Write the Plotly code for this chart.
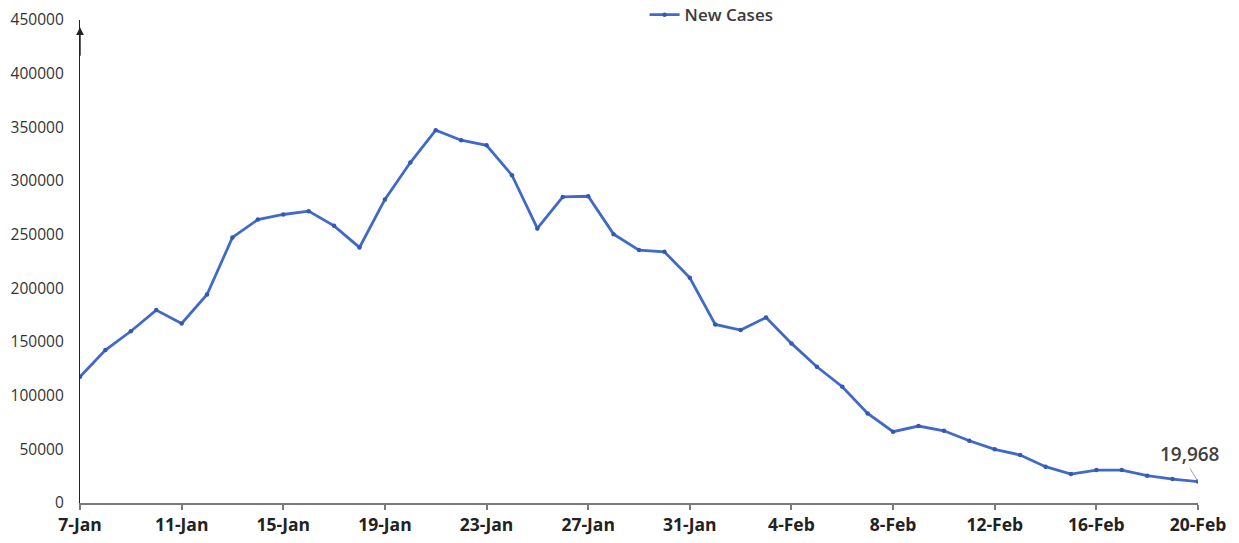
import plotly.graph_objects as go
import pandas as pd

# Daily new cases, 7 Jan - 20 Feb
dates = pd.date_range("2022-01-07", "2022-02-20", freq="D")
new_cases = [
    117600, 142500, 160000, 179700, 167300, 194300, 247400, 264100, 268800,
    271900, 258200, 238100, 282800, 317200, 347300, 338000, 333300, 305400,
    255800, 285200, 285800, 250500, 235600, 234000, 209800,
    166400, 161100, 172900, 148700, 126900, 108300, 83500, 66400, 71700,
    67300, 58000, 50000, 44700, 33800, 27000, 30700, 30700, 25400, 22300,
    19968,
]
series_name = "New Cases"
last_label = "19,968"

y_ticks = list(range(0, 450001, 50000))

line_color = "#4169C8"
font_family = "Open Sans, Liberation Sans, sans-serif"

fig = go.Figure()
fig.add_trace(go.Scatter(
    x=dates, y=new_cases, name=series_name, mode="lines+markers",
    line=dict(color=line_color, width=2.8),
    marker=dict(color="#3558B0", size=4.5, symbol="circle"),
))

fig.add_annotation(
    x=dates[-1], y=new_cases[-1], text=last_label,
    showarrow=True, arrowhead=0, arrowwidth=0.8, arrowcolor="#8a8a8a",
    ax=-8, ay=-13, xanchor="center", yanchor="bottom",
    font=dict(size=19, color="#404040", family=font_family, weight=600),
)

# arrow tip on top of the value axis
fig.add_annotation(
    xref="paper", yref="paper", x=0, y=0.985, ax=0, ay=30,
    axref="pixel", ayref="pixel", text="", showarrow=True,
    arrowhead=2, arrowsize=1.1, arrowwidth=1.4, arrowcolor="#222222",
)

fig.update_layout(
    width=1239, height=543,
    margin=dict(l=80, r=41, t=20, b=40, autoexpand=False),
    paper_bgcolor="white", plot_bgcolor="white",
    font=dict(family=font_family, color="#333333"),
    showlegend=True,
    legend=dict(
        orientation="h", x=0.505, xanchor="left", y=1.01, yanchor="middle",
        font=dict(size=17, color="#3a3a3a", weight=600),
        bgcolor="rgba(0,0,0,0)", itemwidth=30,
    ),
    xaxis=dict(
        range=[dates[0], dates[-1]],
        tick0=dates[0], dtick=4 * 86400000, tickformat="%-d-%b",
        showgrid=False, zeroline=False,
        showline=True, linecolor="#7a7a7a", linewidth=2,
        ticks="outside", ticklen=5, tickcolor="#7a7a7a", tickwidth=1.5,
        tickfont=dict(size=17.5, color="#222222", family=font_family,
                      weight="bold"),
    ),
    yaxis=dict(
        range=[0, 450000], tickvals=y_ticks,
        ticktext=[str(v) for v in y_ticks],
        showgrid=False, zeroline=False,
        showline=True, linecolor="#222222", linewidth=1.3,
        ticks="", ticklabelstandoff=12,
        tickfont=dict(size=15.5, color="#333333"),
    ),
)

fig.write_html("out.html")
